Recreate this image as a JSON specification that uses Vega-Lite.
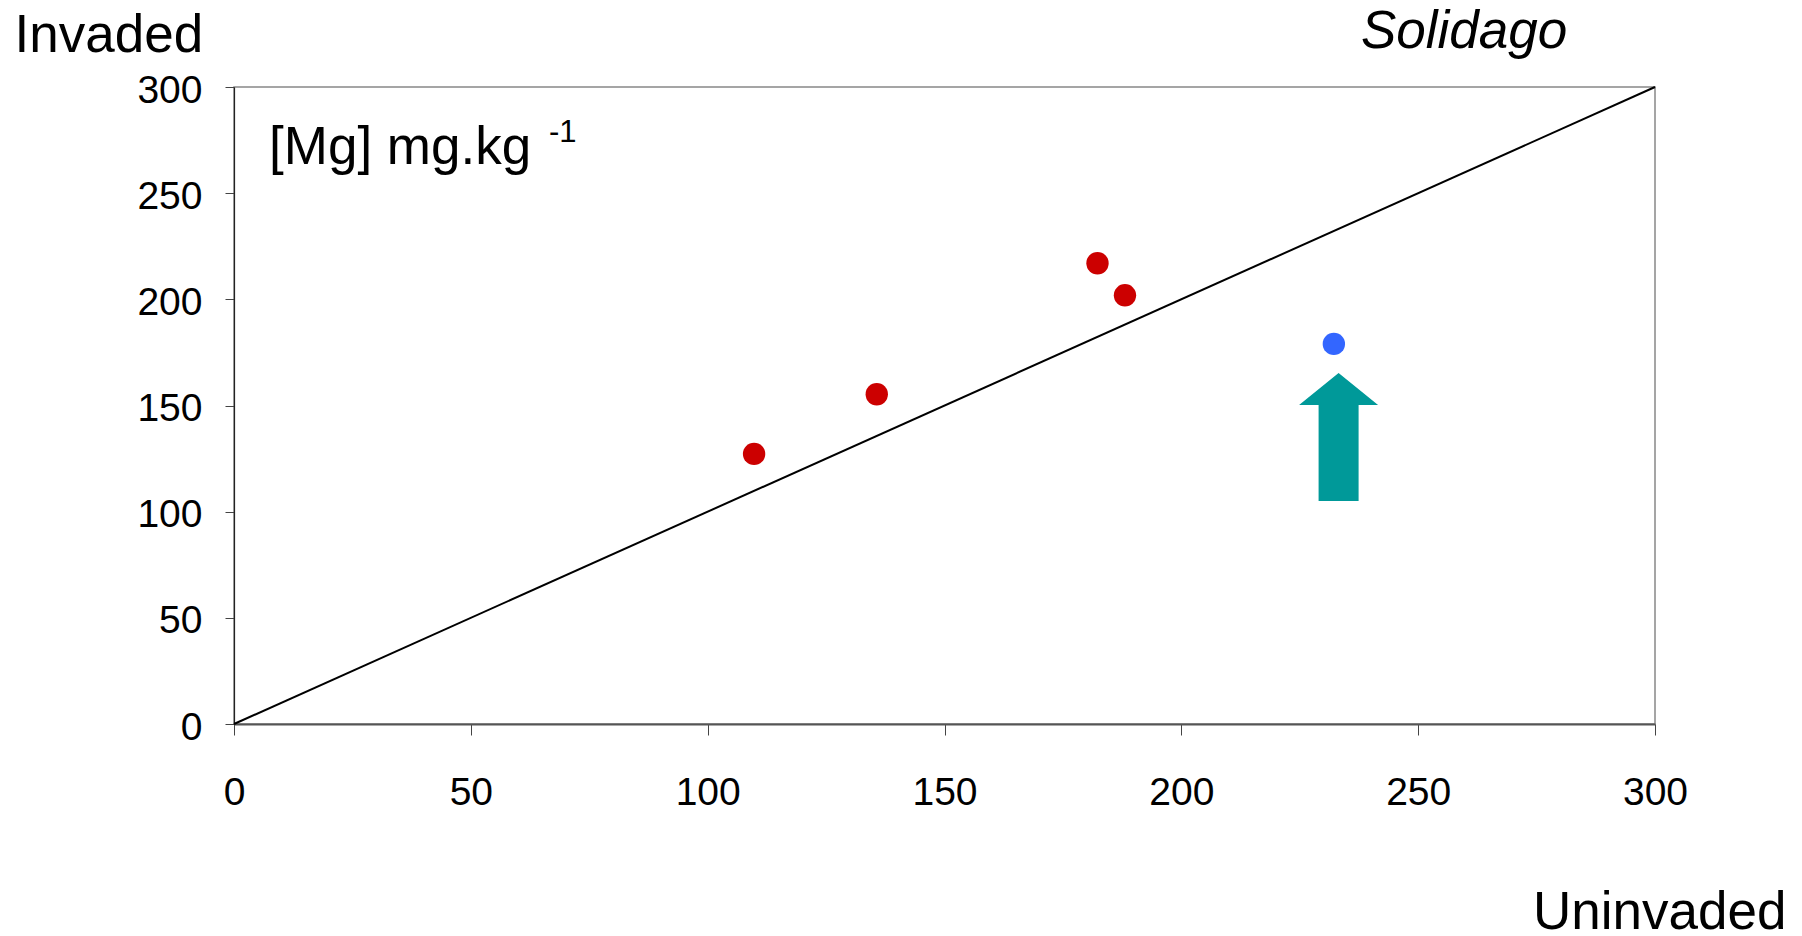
{
  "$schema": "https://vega.github.io/schema/vega-lite/v6.json",
  "width": 1421,
  "height": 637,
  "autosize": {"type": "none"},
  "padding": {"left": 234, "top": 87, "right": 147, "bottom": 212},
  "background": "white",
  "config": {
    "view": {"stroke": "#888888", "strokeWidth": 1.5},
    "font": "Liberation Sans"
  },
  "layer": [
    {
      "data": {"values": [{"Uninvaded": 0, "Invaded": 0}, {"Uninvaded": 300, "Invaded": 300}]},
      "mark": {"type": "line", "color": "black", "strokeWidth": 2, "clip": false},
      "encoding": {
        "x": {
          "field": "Uninvaded",
          "type": "quantitative",
          "scale": {"domain": [0, 300], "nice": false, "zero": false},
          "axis": {
            "title": "Uninvaded",
            "values": [0, 50, 100, 150, 200, 250, 300],
            "grid": false,
            "labelFont": "Liberation Sans",
            "labelFontSize": 39,
            "labelColor": "black",
            "labelBaseline": "alphabetic",
            "labelPadding": 69,
            "labelFlush": false,
            "labelOverlap": false,
            "tickSize": 11,
            "tickColor": "#444444",
            "tickWidth": 1,
            "domainColor": "#555555",
            "domainWidth": 2,
            "titleFont": "Liberation Sans",
            "titleFontSize": 53,
            "titleFontWeight": "normal",
            "titleColor": "black",
            "titleAlign": "right",
            "titleBaseline": "alphabetic",
            "titleX": 1552,
            "titleY": 204
          }
        },
        "y": {
          "field": "Invaded",
          "type": "quantitative",
          "scale": {"domain": [0, 300], "nice": false, "zero": false},
          "axis": {
            "title": "Invaded",
            "values": [0, 50, 100, 150, 200, 250, 300],
            "grid": false,
            "labelFont": "Liberation Sans",
            "labelFontSize": 39,
            "labelColor": "black",
            "labelBaseline": "middle",
            "labelPadding": 23,
            "labelOffset": 3,
            "labelFlush": false,
            "labelOverlap": false,
            "tickSize": 9,
            "tickColor": "#444444",
            "tickWidth": 1,
            "domainColor": "#222222",
            "domainWidth": 1.2,
            "titleFont": "Liberation Sans",
            "titleFontSize": 53,
            "titleFontWeight": "normal",
            "titleColor": "black",
            "titleAngle": 0,
            "titleAlign": "left",
            "titleBaseline": "alphabetic",
            "titleX": -220,
            "titleY": -36
          }
        }
      }
    },
    {
      "data": {"values": [
        {"Uninvaded": 109.8, "Invaded": 127.2, "site": "Invaded higher"},
        {"Uninvaded": 135.7, "Invaded": 155.3, "site": "Invaded higher"},
        {"Uninvaded": 182.3, "Invaded": 217.0, "site": "Invaded higher"},
        {"Uninvaded": 188.1, "Invaded": 201.9, "site": "Invaded higher"},
        {"Uninvaded": 232.2, "Invaded": 179.0, "site": "Invaded lower"}
      ]},
      "mark": {"type": "point", "shape": "circle", "filled": true, "opacity": 1, "size": 500, "strokeWidth": 0},
      "encoding": {
        "x": {"field": "Uninvaded", "type": "quantitative"},
        "y": {"field": "Invaded", "type": "quantitative"},
        "color": {
          "field": "site",
          "type": "nominal",
          "scale": {"domain": ["Invaded higher", "Invaded lower"], "range": ["#CC0000", "#3366FF"]},
          "legend": null
        }
      }
    },
    {
      "data": {"values": [{"Uninvaded": 233.2, "Invaded": 135.2, "note": "arrow"}]},
      "mark": {
        "type": "point",
        "shape": "M0,-1L0.617,-0.5L0.3125,-0.5L0.3125,1L-0.3125,1L-0.3125,-0.5L-0.617,-0.5Z",
        "filled": true,
        "opacity": 1,
        "color": "#009999",
        "size": 16384,
        "strokeWidth": 0
      },
      "encoding": {
        "x": {"field": "Uninvaded", "type": "quantitative"},
        "y": {"field": "Invaded", "type": "quantitative"}
      }
    },
    {
      "data": {"values": [{"label": "[Mg] mg.kg"}]},
      "mark": {"type": "text", "align": "left", "baseline": "alphabetic", "fontSize": 53, "font": "Liberation Sans", "color": "black", "clip": false},
      "encoding": {
        "x": {"datum": 7.4, "type": "quantitative"},
        "y": {"datum": 263.7, "type": "quantitative"},
        "text": {"field": "label", "type": "nominal"}
      }
    },
    {
      "data": {"values": [{"label": "-1"}]},
      "mark": {"type": "text", "align": "left", "baseline": "alphabetic", "fontSize": 31, "font": "Liberation Sans", "color": "black", "clip": false},
      "encoding": {
        "x": {"datum": 66.5, "type": "quantitative"},
        "y": {"datum": 274.0, "type": "quantitative"},
        "text": {"field": "label", "type": "nominal"}
      }
    },
    {
      "data": {"values": [{"label": "Solidago"}]},
      "mark": {"type": "text", "align": "center", "baseline": "alphabetic", "fontSize": 53, "fontStyle": "italic", "font": "Liberation Sans", "color": "black", "clip": false},
      "encoding": {
        "x": {"datum": 259.7, "type": "quantitative"},
        "y": {"datum": 318.4, "type": "quantitative"},
        "text": {"field": "label", "type": "nominal"}
      }
    }
  ]
}
